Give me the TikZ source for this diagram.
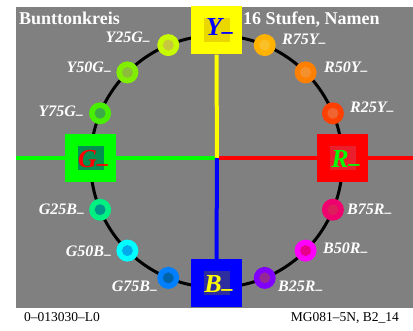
\documentclass[tikz,border=0pt]{standalone}
\usepackage{fontspec}
\setmainfont{Liberation Serif}
\usetikzlibrary{calc}
\definecolor{bg}{RGB}{128,128,128}
\definecolor{yel}{RGB}{255,255,0}
\definecolor{yin}{RGB}{235,215,0}
\definecolor{grn}{RGB}{0,255,0}
\definecolor{gin}{RGB}{0,145,80}
\definecolor{red}{RGB}{255,0,0}
\definecolor{rin}{RGB}{235,30,45}
\definecolor{blu}{RGB}{0,0,255}
\definecolor{bin}{RGB}{45,45,160}
\definecolor{oA}{RGB}{255,178,0}\definecolor{iA}{RGB}{250,192,40}
\definecolor{oB}{RGB}{255,128,0}\definecolor{iB}{RGB}{245,145,45}
\definecolor{oC}{RGB}{255,64,0}\definecolor{iC}{RGB}{240,100,50}
\definecolor{oD}{RGB}{240,0,110}\definecolor{iD}{RGB}{220,30,90}
\definecolor{oE}{RGB}{255,0,255}\definecolor{iE}{RGB}{230,0,140}
\definecolor{oF}{RGB}{128,0,255}\definecolor{iF}{RGB}{150,40,150}
\definecolor{oG}{RGB}{0,128,255}\definecolor{iG}{RGB}{0,100,170}
\definecolor{oH}{RGB}{0,255,255}\definecolor{iH}{RGB}{0,170,235}
\definecolor{oI}{RGB}{0,240,130}\definecolor{iI}{RGB}{0,150,140}
\definecolor{oJ}{RGB}{70,240,0}\definecolor{iJ}{RGB}{60,170,70}
\definecolor{oK}{RGB}{128,240,0}\definecolor{iK}{RGB}{140,190,60}
\definecolor{oL}{RGB}{200,250,0}\definecolor{iL}{RGB}{200,200,60}
\newcommand\mns{\raisebox{-0.15em}{\scalebox{0.85}[1]{–}}}
\begin{document}
\begin{tikzpicture}[x=1pt,y=-1pt,
  bigbox/.style={minimum width=51pt,minimum height=48pt,inner sep=0pt,draw=none},
  inbox/.style={minimum width=26pt,minimum height=24pt,inner sep=0pt,draw=none},
  boxletter/.style={anchor=base,inner sep=0pt,font=\fontsize{26}{26}\selectfont\bfseries\itshape},
  dotouter/.style={circle,minimum size=22pt,inner sep=0pt,draw=none},
  dotinner/.style={circle,minimum size=11pt,inner sep=0pt,draw=none},
  lbl/.style={inner sep=0pt,text=white,font=\fontsize{16}{16}\selectfont\bfseries\itshape},
  title/.style={inner sep=0pt,anchor=base west,text=white,font=\fontsize{18}{18}\selectfont\bfseries},
  foot/.style={inner sep=0pt,font=\fontsize{13.5}{13.5}\selectfont},
  axis/.style={line width=4pt}]
\useasboundingbox[fill=white] (0,0) rectangle (413,331);
\fill[bg] (16,7) rectangle (413,308);
\coordinate (c) at (216.5,161.5);
\coordinate (m) at (217,158);
\coordinate (le) at (16,158);
\coordinate (re) at (413,158);
\draw[line width=3pt] (c) circle[radius=126];
% boxes
\node[bigbox,fill=yel] (Y) at (216.5,30.5) {};
\node[bigbox,fill=grn] (G) at (90.5,158) {};
\node[bigbox,fill=red] (R) at (342.5,158) {};
\node[bigbox,fill=blu] (B) at (216.5,283) {};
% axes
\draw[axis,grn] (le) -- (G.west);
\draw[axis,grn] (G.east) -- (m);
\draw[axis,red] (m) -- (R.west);
\draw[axis,red] (R.east) -- (re);
\draw[axis,yel] (Y.south) -- (m);
\draw[axis,blu] (m) -- (B.north);
% inner boxes and letters
\node[inbox,fill=yin] (Yi) at (Y) {};
\node[inbox,fill=gin] (Gi) at (G) {};
\node[inbox,fill=rin] (Ri) at (R) {};
\node[inbox,fill=bin] (Bi) at (B) {};
\node[boxletter,text=blu] (Yt) at ($(Y)+(3,5.5)$) {Y\mns};
\node[boxletter,text=red] (Gt) at ($(G)+(2.5,9.5)$) {G\mns};
\node[boxletter,text=grn] (Rt) at ($(R)+(3,10)$) {R\mns};
\node[boxletter,text=yel] (Bt) at ($(B)+(2,9.5)$) {B\mns};
% dots
\foreach \n/\a/\o/\i in {R75Y/-67.5/oA/iA, R50Y/-45/oB/iB, R25Y/-22.5/oC/iC,
  B75R/22.5/oD/iD, B50R/45/oE/iE, B25R/67.5/oF/iF,
  G75B/112.5/oG/iG, G50B/135/oH/iH, G25B/157.5/oI/iI,
  Y75G/-157.5/oJ/iJ, Y50G/-135/oK/iK, Y25G/-112.5/oL/iL}{
  \node[dotouter,fill=\o] (d\n) at ($(c)+(\a:126)$) {};
  \node[dotinner,fill=\i] (e\n) at (d\n) {};
}
% labels
\node[lbl,anchor=base west] (lR75Y) at (282,45) {R75Y\mns};
\node[lbl,anchor=base west] (lR50Y) at (324,73) {R50Y\mns};
\node[lbl,anchor=base west] (lR25Y) at (350,113) {R25Y\mns};
\node[lbl,anchor=base west] (lB75R) at (347,215) {B75R\mns};
\node[lbl,anchor=base west] (lB50R) at (323,254) {B50R\mns};
\node[lbl,anchor=base west] (lB25R) at (278,292) {B25R\mns};
\node[lbl,anchor=base east] (lY25G) at (150,43) {Y25G\mns};
\node[lbl,anchor=base east] (lY50G) at (111,73) {Y50G\mns};
\node[lbl,anchor=base east] (lY75G) at (83,117) {Y75G\mns};
\node[lbl,anchor=base east] (lG25B) at (84,215) {G25B\mns};
\node[lbl,anchor=base east] (lG50B) at (111,257) {G50B\mns};
\node[lbl,anchor=base east] (lG75B) at (157,292) {G75B\mns};
% titles
\node[title] (t1) at (19,25) {Bunttonkreis};
\node[title] (t2) at (243,25) {16 Stufen, Namen};
\node[foot,anchor=base west] (f1) at (24,322) {0–013030–L0};
\node[foot,anchor=base east] (f2) at (399,322) {MG081–5N, B2\_14};
\end{tikzpicture}
\end{document}
